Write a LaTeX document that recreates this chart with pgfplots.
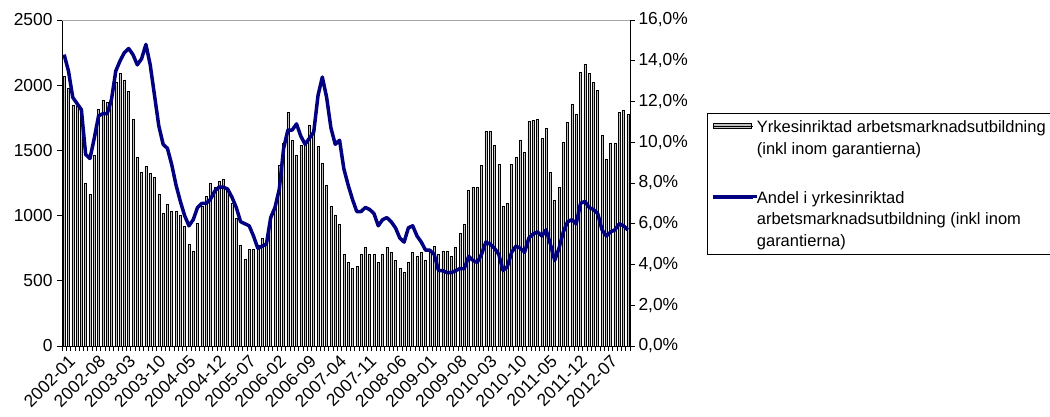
\documentclass[border=0pt]{standalone}
\usepackage{fontspec}
\setmainfont{Liberation Sans}
\usepackage{pgfplots}
\usepackage{pgfplotstable}
\pgfplotsset{compat=1.18}
\definecolor{navyline}{RGB}{0,0,128}
\definecolor{barfill}{RGB}{192,192,192}

\pgfplotstableread{
x bars share
0 2070 14.3
1 1980 13.5
2 1850 12.2
3 1840 11.9
4 1810 11.6
5 1250 9.4
6 1165 9.2
7 1465 10.2
8 1815 11.3
9 1885 11.4
10 1870 11.4
11 1915 12.1
12 2025 13.5
13 2090 14.0
14 2040 14.4
15 1950 14.6
16 1740 14.3
17 1445 13.8
18 1335 14.1
19 1375 14.8
20 1325 13.8
21 1295 12.3
22 1160 10.8
23 1015 9.9
24 1085 9.7
25 1035 8.9
26 1035 7.9
27 1005 7.1
28 920 6.4
29 780 5.9
30 730 6.2
31 940 6.8
32 1070 7.0
33 1150 7.0
34 1245 7.2
35 1215 7.6
36 1265 7.8
37 1275 7.8
38 1210 7.7
39 1095 7.3
40 980 6.8
41 775 6.1
42 665 6.0
43 740 5.9
44 745 5.4
45 775 4.8
46 825 4.9
47 775 5.0
48 985 6.3
49 1070 6.8
50 1385 7.7
51 1555 9.7
52 1795 10.6
53 1575 10.6
54 1465 10.9
55 1540 10.3
56 1545 9.9
57 1695 10.2
58 1645 10.5
59 1530 12.3
60 1400 13.2
61 1235 12.2
62 1075 10.7
63 1005 9.9
64 935 10.1
65 700 8.7
66 645 7.9
67 595 7.2
68 610 6.6
69 700 6.6
70 755 6.8
71 700 6.7
72 705 6.5
73 645 5.9
74 705 6.2
75 755 6.3
76 720 6.1
77 655 5.8
78 595 5.3
79 565 5.1
80 645 5.8
81 720 5.9
82 690 5.4
83 720 5.1
84 660 4.7
85 735 4.7
86 765 4.5
87 700 3.7
88 730 3.7
89 730 3.6
90 685 3.6
91 755 3.7
92 865 3.8
93 935 3.8
94 1195 4.4
95 1220 4.2
96 1215 4.1
97 1385 4.5
98 1645 5.1
99 1645 5.0
100 1540 4.8
101 1395 4.5
102 1075 3.7
103 1095 3.9
104 1395 4.6
105 1450 4.9
106 1580 4.8
107 1485 4.6
108 1720 5.3
109 1730 5.5
110 1740 5.6
111 1595 5.4
112 1670 5.7
113 1330 5.0
114 1115 4.2
115 1215 4.8
116 1560 5.6
117 1715 6.1
118 1855 6.2
119 1780 6.0
120 2100 7.0
121 2160 7.1
122 2090 6.8
123 2020 6.7
124 1960 6.5
125 1615 5.7
126 1435 5.4
127 1555 5.6
128 1555 5.7
129 1790 6.0
130 1810 5.9
131 1780 5.7
}\data

\begin{document}
\begin{tikzpicture}
\useasboundingbox (0pt,0pt) rectangle (1050pt,416pt);
\begin{axis}[
  at={(62pt,70pt)}, anchor=south west, scale only axis,
  width=568pt, height=326pt,
  xmin=-0.5, xmax=131.5, ymin=0, ymax=2500,
  axis x line*=bottom, axis y line*=left,
  axis line style={black, line width=0.8pt},
  ytick={0,500,1000,1500,2000,2500},
  yticklabels={0,500,1000,1500,2000,2500},
  minor ytick={0,500,1000,1500,2000,2500},
  xtick={0,7,...,126},
  xticklabels={2002-01,2002-08,2003-03,2003-10,2004-05,2004-12,2005-07,2006-02,2006-09,2007-04,2007-11,2008-06,2009-01,2009-08,2010-03,2010-10,2011-05,2011-12,2012-07},
  minor xtick={-0.5,0.5,...,131.5},
  tick align=outside, major tick length=0pt, minor tick length=5pt,
  tick style={black, line width=0.7pt},
  ticklabel style={font=\fontsize{17.4}{20}\selectfont},
  xticklabel style={rotate=45, anchor=north east, yshift=-5pt, xshift=0pt},
  yticklabel style={xshift=-6pt},
  ybar, bar width=2pt,
]
\addplot[draw=black, fill=barfill, line width=0.5pt] table[x=x,y=bars]{\data};
\draw[gray!70, line width=0.8pt] (rel axis cs:0,1) -- (rel axis cs:1,1);
\end{axis}
\begin{axis}[
  at={(62pt,70pt)}, anchor=south west, scale only axis,
  width=568pt, height=326pt,
  xmin=-0.5, xmax=131.5, ymin=0, ymax=16,
  axis x line=none, axis y line*=right,
  axis line style={black, line width=0.8pt},
  ytick={0,2,4,6,8,10,12,14,16},
  yticklabels={{0,0\%},{2,0\%},{4,0\%},{6,0\%},{8,0\%},{10,0\%},{12,0\%},{14,0\%},{16,0\%}},
  tick align=outside, major tick length=5pt,
  tick style={black, line width=0.7pt},
  ticklabel style={font=\fontsize{17.4}{20}\selectfont},
  legend style={
    at={(axis description cs:1.13556,0.7147)}, anchor=north west,
    draw=black, line width=0.8pt, fill=white,
    inner xsep=4pt, inner ysep=1pt,
    row sep=0.3pt, column sep=0pt,
    font=\fontsize{16.5}{20}\selectfont,
    cells={anchor=base west, text height=16pt, text depth=1.7pt},
  },
]
\addlegendimage{legend image code/.code={\draw[draw=black, fill=barfill, line width=0.6pt] (0pt,4pt) rectangle (38pt,9pt); \path (0pt,6pt) -- (40pt,6pt);}}
\addlegendentry{Yrkesinriktad arbetsmarknadsutbildning}
\addlegendimage{empty legend}
\addlegendentry{(inkl inom garantierna)}
\addlegendimage{empty legend}
\addlegendentry[text depth=6.7pt]{~}
\addplot[navyline, line width=3.5pt, line join=round, no markers,
  legend image code/.code={\draw[navyline, line width=3pt, overlay] (0pt,6.3pt) -- (44pt,6.3pt); \path (0pt,6pt) -- (40pt,6pt);}]
  table[x=x,y=share]{\data};
\addlegendentry{Andel i yrkesinriktad}
\addlegendimage{empty legend}
\addlegendentry{arbetsmarknadsutbildning (inkl inom}
\addlegendimage{empty legend}
\addlegendentry[text depth=4.7pt]{garantierna)}
\end{axis}
\end{tikzpicture}
\end{document}
